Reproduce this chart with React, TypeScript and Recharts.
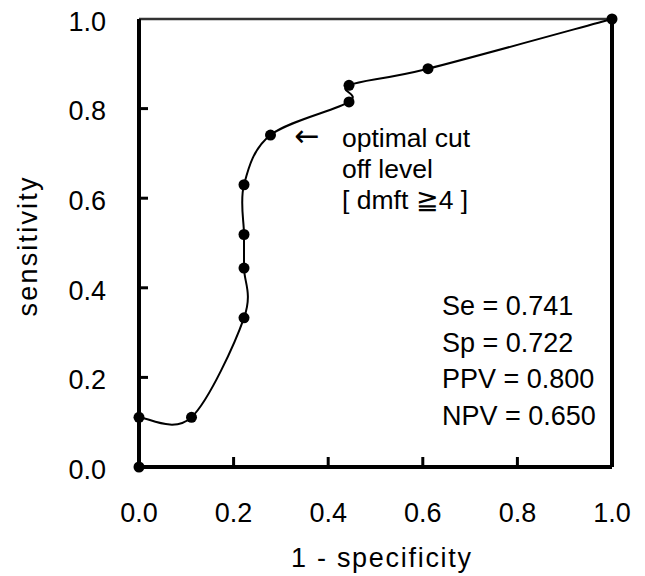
import React from 'react';
import { ComposedChart, Line, Scatter, XAxis, YAxis, ReferenceLine } from 'recharts';

// ROC points: 1 - specificity (x) and sensitivity (y)
const fpr = [0, 0, 0.111, 0.222, 0.222, 0.222, 0.222, 0.278, 0.444, 0.444, 0.611, 1.0];
const sens = [0, 0.111, 0.111, 0.333, 0.444, 0.519, 0.63, 0.741, 0.815, 0.852, 0.889, 1.0];
const onCurve = [false, true, true, true, true, true, true, true, true, true, true, true];
const axisTicks = [0, 0.2, 0.4, 0.6, 0.8, 1.0];
const statLines = ['Se = 0.741', 'Sp = 0.722', 'PPV = 0.800', 'NPV = 0.650'];
const noteLines = ['optimal cut', 'off level', '[ dmft \u22674 ]'];
const xTitle = '1 - specificity';
const yTitle = 'sensitivity';

const data = fpr.map((x, i) => ({ x, y: sens[i], curve: onCurve[i] ? sens[i] : null }));

const FONT = '"Liberation Sans", Arial, sans-serif';

// Excel-like smoothed line (Catmull-Rom style Bezier)
function excelSmooth(context: any) {
  let pts: number[][] = [];
  return {
    areaStart() {},
    areaEnd() {},
    lineStart() {
      pts = [];
    },
    lineEnd() {
      const n = pts.length;
      if (!n) return;
      context.moveTo(pts[0][0], pts[0][1]);
      for (let i = 0; i < n - 1; i++) {
        const p0 = pts[Math.max(i - 1, 0)];
        const p1 = pts[i];
        const p2 = pts[i + 1];
        const p3 = pts[Math.min(i + 2, n - 1)];
        context.bezierCurveTo(
          p1[0] + (p2[0] - p0[0]) / 6,
          p1[1] + (p2[1] - p0[1]) / 6,
          p2[0] - (p3[0] - p1[0]) / 6,
          p2[1] - (p3[1] - p1[1]) / 6,
          p2[0],
          p2[1]
        );
      }
    },
    point(x: number, y: number) {
      pts.push([+x, +y]);
    },
  };
}

const YTick = (props: any) => {
  const { x, y, payload } = props;
  const v = payload.value;
  return (
    <g>
      {v > 0 && v < 1 ? <line x1={x} y1={y} x2={x + 9} y2={y} stroke="#000" strokeWidth={3} /> : null}
      <text x={x - 33} y={y + 2} dy="0.36em" textAnchor="end" fontSize={27} fontFamily={FONT} fill="#000">
        {v.toFixed(1)}
      </text>
    </g>
  );
};

const XTick = (props: any) => {
  const { x, y, payload } = props;
  const v = payload.value;
  return (
    <g>
      {v > 0 && v < 1 ? <line x1={x} y1={y} x2={x} y2={y - 10} stroke="#000" strokeWidth={3} /> : null}
      <text x={x} y={y + 55} textAnchor="middle" fontSize={27} fontFamily={FONT} fill="#000">
        {v.toFixed(1)}
      </text>
    </g>
  );
};

export default function App() {
  return (
    <div style={{ position: 'absolute', left: 0, top: 0, width: 645, height: 576, background: '#fff' }}>
      <ComposedChart width={645} height={576} data={data} margin={{ top: 19, right: 33, bottom: 0, left: 0 }}>
        <XAxis
          type="number"
          dataKey="x"
          domain={[0, 1]}
          ticks={axisTicks}
          height={109}
          tickSize={0}
          tickMargin={0}
          tickLine={false}
          axisLine={{ stroke: '#000', strokeWidth: 4 }}
          tick={<XTick />}
          interval={0}
        />
        <YAxis
          type="number"
          domain={[0, 1]}
          ticks={axisTicks}
          width={139}
          tickSize={0}
          tickMargin={0}
          tickLine={false}
          axisLine={{ stroke: '#000', strokeWidth: 4 }}
          tick={<YTick />}
          interval={0}
        />
        <ReferenceLine y={1} stroke="#333" strokeWidth={2.5} />
        <ReferenceLine x={1} stroke="#000" strokeWidth={4} />
        <Line
          dataKey="curve"
          type={excelSmooth as any}
          stroke="#000"
          strokeWidth={2}
          dot={false}
          activeDot={false}
          isAnimationActive={false}
        />
        <Scatter
          dataKey="y"
          fill="#000"
          isAnimationActive={false}
          shape={(p: any) => <circle cx={p.cx} cy={p.cy} r={5.5} fill="#000" />}
        />
      </ComposedChart>
      <svg
        width={645}
        height={576}
        style={{ position: 'absolute', left: 0, top: 0, pointerEvents: 'none' }}
        fontFamily={FONT}
        fill="#000"
      >
        <text x={381} y={567} textAnchor="middle" fontSize={27} textLength={180} lengthAdjust="spacing">
          {xTitle}
        </text>
        <text
          transform="translate(37,247) rotate(-90)"
          textAnchor="middle"
          fontSize={27}
          textLength={139}
          lengthAdjust="spacing"
        >
          {yTitle}
        </text>
        <text x={307} y={146} fontSize={30} fontFamily='"DejaVu Sans", sans-serif' textAnchor="middle">
          {'\u2190'}
        </text>
        {noteLines.map((t, i) => (
          <text key={t} x={342} y={147 + i * 31} fontSize={26.5}>
            {t}
          </text>
        ))}
        {statLines.map((t, i) => (
          <text key={t} x={442} y={315 + i * 36.7} fontSize={27}>
            {t}
          </text>
        ))}
      </svg>
    </div>
  );
}
